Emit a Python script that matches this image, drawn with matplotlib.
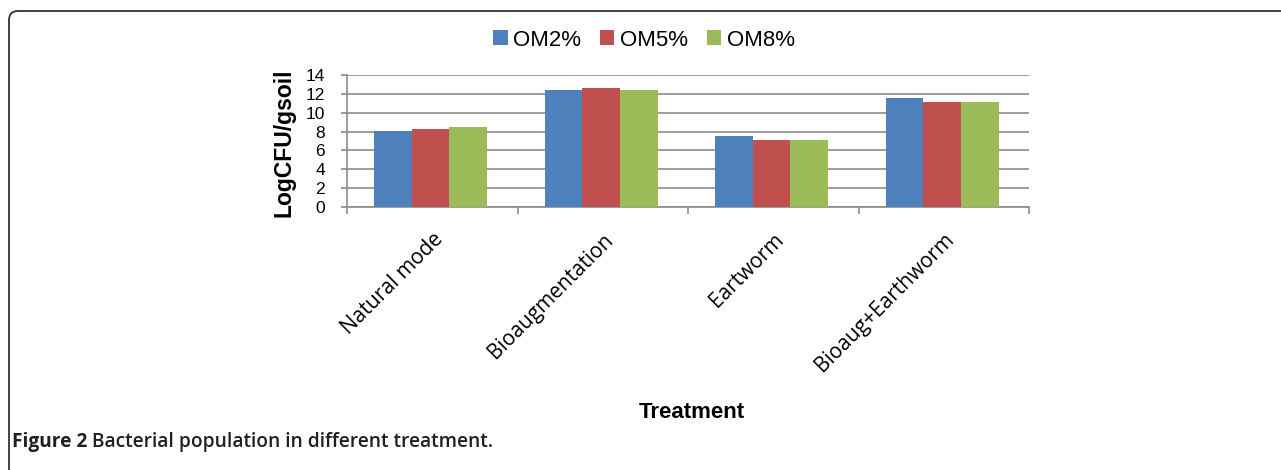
import numpy as np
import matplotlib
matplotlib.use("Agg")
import matplotlib.pyplot as plt
from matplotlib.patches import FancyBboxPatch, Patch
from matplotlib.transforms import IdentityTransform

categories = ["Natural mode", "Bioaugmentation", "Eartworm", "Bioaug+Earthworm"]
series_names = ["OM2%", "OM5%", "OM8%"]
om2 = [8.1, 12.4, 7.5, 11.6]
om5 = [8.3, 12.6, 7.15, 11.1]
om8 = [8.45, 12.4, 7.15, 11.1]
yticks = [0, 2, 4, 6, 8, 10, 12, 14]
colors = ["#4F81BD", "#C0504D", "#9BBB59"]

W, H = 1281, 470
fig = plt.figure(figsize=(W / 100, H / 100), dpi=100)
ax = fig.add_axes([347 / W, 1 - 207 / H, (1029 - 347) / W, (207 - 75) / H])

x = np.arange(len(categories))
bw = 0.221
for i, vals in enumerate([om2, om5, om8]):
    ax.bar(x + (i - 1) * bw - 0.01, vals, width=bw, color=colors[i],
           edgecolor="none", zorder=3, label=series_names[i])

ax.set_xlim(-0.5, len(categories) - 0.5)
ax.set_ylim(0, 14)
ax.set_yticks(yticks)
ax.set_yticklabels([str(v) for v in yticks], fontfamily="Liberation Sans", fontsize=12.5)
ax.yaxis.grid(True, color="#8c8c8c", linewidth=1.2, zorder=0)
ax.set_axisbelow(True)
for s in ["top", "right"]:
    ax.spines[s].set_visible(False)
for s in ["left", "bottom"]:
    ax.spines[s].set_color("#8c8c8c")
    ax.spines[s].set_linewidth(1.2)
ax.tick_params(axis="y", direction="out", length=4, width=1.2, color="#8c8c8c", pad=12)
# category boundaries as ticks
ax.set_xticks(np.arange(len(categories) + 1) - 0.5)
ax.set_xticklabels([])
ax.tick_params(axis="x", direction="out", length=5, width=1.2, color="#8c8c8c")
ax.set_xticks(x, minor=True)
ax.set_xticklabels(categories, minor=True, rotation=45, ha="right", va="top",
                   rotation_mode="anchor", fontfamily="Open Sans", fontsize=15)
ax.tick_params(axis="x", which="minor", length=0, pad=16)

ax.set_ylabel("LogCFU/gsoil", fontfamily="Liberation Sans", fontweight="bold",
              fontsize=16.5, labelpad=4)
ax.yaxis.set_label_coords((295 - 347) / (1029 - 347), 0.49)

fig.text(692 / W, 1 - 413 / H, "Treatment", fontfamily="Liberation Sans",
         fontweight="bold", fontsize=16, ha="center", va="center")

handles = [Patch(facecolor=c, edgecolor="none") for c in colors]
fig.legend(handles, series_names, loc="center", bbox_to_anchor=(644 / W, 1 - 40 / H),
           ncol=3, frameon=False, prop={"family": "Liberation Sans", "size": 16},
           handlelength=0.64, handleheight=0.62, handletextpad=0.25,
           columnspacing=0.85, borderpad=0)

# caption
t1 = fig.text(12 / W, 1 - 442 / H, "Figure 2", fontfamily="Open Sans",
              fontweight="bold", fontsize=13.8, color="#231f20", ha="left", va="center")
fig.canvas.draw()
bb = t1.get_window_extent()
fig.text((bb.x1 + 5) / W, 1 - 442 / H, "Bacterial population in different treatment.",
         fontfamily="Open Sans", fontweight="semibold", fontsize=13.8, color="#231f20",
         ha="left", va="center")

# frame with rounded top-left corner
frame = FancyBboxPatch((9, -60), 1400, H - 11 + 60, boxstyle="round,pad=0,rounding_size=9",
                       transform=IdentityTransform(), facecolor="none",
                       edgecolor="#333333", linewidth=1.3)
fig.add_artist(frame)

fig.savefig("out.png", dpi=100)
